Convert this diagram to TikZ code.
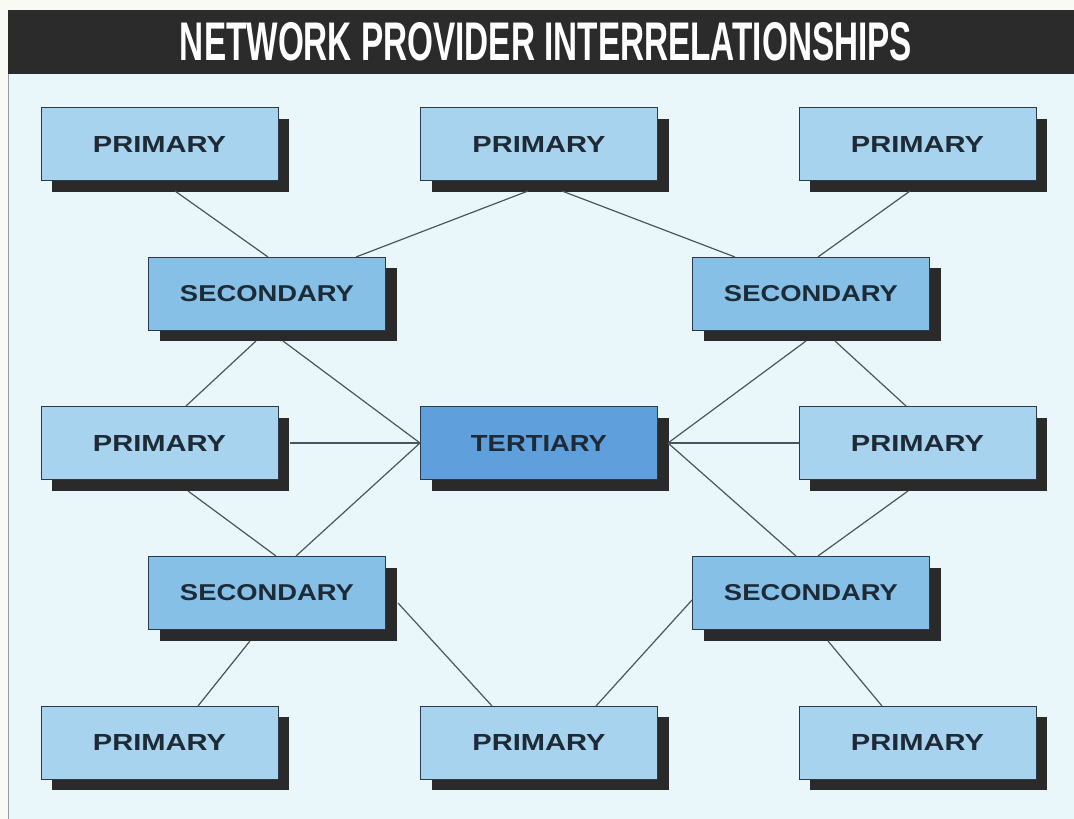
\documentclass[tikz,border=0pt]{standalone}
\usepackage{fontspec}
\setmainfont{Liberation Sans}
\usepackage{graphicx}
\usetikzlibrary{calc,shadows}

\definecolor{pagec}{HTML}{FAFAF5}
\definecolor{panelc}{HTML}{EAF7FA}
\definecolor{barc}{HTML}{2B2B2B}
\definecolor{rulec}{HTML}{9A9A9A}
\definecolor{primc}{HTML}{A8D3EE}
\definecolor{secc}{HTML}{86C0E7}
\definecolor{terc}{HTML}{5E9FDC}
\definecolor{shadc}{HTML}{2A2A2A}
\definecolor{borderc}{HTML}{2A3A4A}
\definecolor{labelc}{HTML}{1E2A36}
\definecolor{linkc}{HTML}{4A5560}

% label texts, stretched to the set widths
\newcommand\primtext{\resizebox{133pt}{16pt}{\bfseries PRIMARY}}
\newcommand\sectext{\resizebox{174pt}{16pt}{\bfseries SECONDARY}}
\newcommand\tertext{\resizebox{136pt}{16pt}{\bfseries TERTIARY}}

\tikzset{
  box/.style={draw=borderc, line width=1pt, minimum width=237pt, minimum height=73pt,
    inner sep=0pt, text=labelc,
    drop shadow={shadow xshift=11pt, shadow yshift=-11pt, fill=shadc, opacity=1}},
  primbox/.style={box, fill=primc},
  secbox/.style={box, fill=secc},
  terbox/.style={box, fill=terc},
  link/.style={draw=linkc, line width=1.2pt},
}

\begin{document}
\begin{tikzpicture}[x=1pt,y=-1pt]
\useasboundingbox (0,0) rectangle (1074,819);
% page, panel and title bar
\fill[pagec] (0,0) rectangle (1074,819);
\fill[panelc] (8,74) rectangle (1074,819);
\fill[barc] (8,10) rectangle (1074,74);
\draw[rulec, line width=1pt] (8.5,74) -- (8.5,819);
\node[text=white, inner sep=0pt] (title) at (546,42)
  {\resizebox{732pt}{38pt}{\bfseries NETWORK PROVIDER INTERRELATIONSHIPS}};

% provider boxes
\node[primbox] (ptl) at (159.5,144) {\primtext};
\node[primbox] (ptm) at (539,144) {\primtext};
\node[primbox] (ptr) at (917.5,144) {\primtext};
\node[secbox] (sl) at (267,293.5) {\sectext};
\node[secbox] (sr) at (811,293.5) {\sectext};
\node[primbox] (pml) at (159.5,443) {\primtext};
\node[terbox] (ter) at (539,443) {\tertext};
\node[primbox] (pmr) at (917.5,443) {\primtext};
\node[secbox] (sbl) at (267,593) {\sectext};
\node[secbox] (sbr) at (811,593) {\sectext};
\node[primbox] (pbl) at (159.5,742.5) {\primtext};
\node[primbox] (pbm) at (539,742.5) {\primtext};
\node[primbox] (pbr) at (917.5,742.5) {\primtext};

% links between providers
\draw[link] ($(ptl)+(15.5,47)$) -- ($(sl)+(1,-36.5)$);
\draw[link] ($(ptm)+(-11,47)$) -- ($(sl)+(89,-36.5)$);
\draw[link] ($(ptm)+(23,47)$) -- ($(sr)+(-76,-36.5)$);
\draw[link] ($(ptr)+(-7.5,47)$) -- ($(sr)+(7,-36.5)$);
\draw[link] ($(sl)+(-11,47.5)$) -- ($(pml)+(26.5,-37)$);
\draw[link] ($(sl)+(16,47.5)$) -- (ter.west);
\draw[link] ($(pml)+(130.5,0)$) -- (ter.west);
\draw[link] (ter.west) -- ($(sbl)+(29,-37)$);
\draw[link] ($(pml)+(28.5,48)$) -- ($(sbl)+(9,-37)$);
\draw[link] ($(sbl)+(-17,48)$) -- ($(pbl)+(38.5,-36.5)$);
\draw[link] ($(sbl)+(131,10)$) -- ($(pbm)+(-47,-36.5)$);
\draw[link] ($(sr)+(-5,47.5)$) -- ($(ter)+(129,0)$);
\draw[link] ($(ter)+(129,0)$) -- (pmr.west);
\draw[link] ($(sr)+(24,47.5)$) -- ($(pmr)+(-11.5,-37)$);
\draw[link] ($(ter)+(129,0)$) -- ($(sbr)+(-15,-37)$);
\draw[link] ($(pmr)+(-9.5,48)$) -- ($(sbr)+(7,-37)$);
\draw[link] ($(sbr)+(-119,7)$) -- ($(pbm)+(57,-36.5)$);
\draw[link] ($(sbr)+(17,48)$) -- ($(pbr)+(-35.5,-36.5)$);
\end{tikzpicture}
\end{document}
